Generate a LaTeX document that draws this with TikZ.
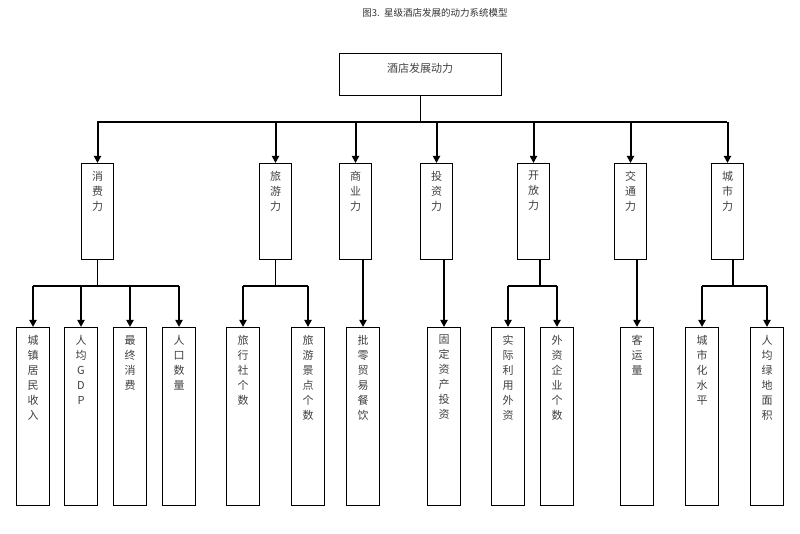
\documentclass[tikz,border=0pt]{standalone}
\usepackage{fontspec}
\newfontfamily\cjk{Noto Sans CJK SC}
\usetikzlibrary{arrows.meta}
\begin{document}
\begin{tikzpicture}[x=1pt,y=-1pt,
  box/.style={draw,line width=1pt,inner sep=0pt,anchor=north west},
  lab/.style={anchor=north,align=center,font=\cjk\fontsize{11}{15}\selectfont,text=black!75,inner sep=0pt},
  bus/.style={line width=1.3pt},
  arr/.style={line width=2pt,-{Triangle[length=7pt,width=7pt]}},
  stem/.style={line width=1.3pt}]
\useasboundingbox (0,0) rectangle (800,534);
\node[font=\cjk\fontsize{9.5}{11}\selectfont,text=black!80] (title) at (435,13) {图3.\ \ 星级酒店发展的动力系统模型};
% top
\node[box,minimum width=162pt,minimum height=42pt] (top) at (339,53) {};
\node[lab,font=\cjk\fontsize{11}{13}\selectfont] (toplab) at (420,63) {酒店发展动力};
\coordinate (b1) at (420,122);
\draw[stem] (top.south) -- (top.south |- b1);
\draw[bus] (97,122) -- (727,122);
% mid boxes
\foreach \n/\x/\t in {m1/81/消\\费\\力, m2/259/旅\\游\\力, m3/339/商\\业\\力, m4/420/投\\资\\力, m5/517/开\\放\\力, m6/614/交\\通\\力, m7/711/城\\市\\力}{
  \node[box,minimum width=32pt,minimum height=96pt] (\n) at (\x,163) {};
  \node[lab] (\n l) at ([yshift=-8pt]\n.north) {\t};
  \coordinate (\n t) at (\n.north |- 0,122);
  \draw[arr] (\n t) -- (\n.north);
}
% leaf boxes
\foreach \n/\x/\t in {l1/16/城\\镇\\居\\民\\收\\入, l2/64/人\\均\\G\\D\\P, l3/113/最\\终\\消\\费, l4/162/人\\口\\数\\量, l5/226/旅\\行\\社\\个\\数, l6/291/旅\\游\\景\\点\\个\\数, l7/346/批\\零\\贸\\易\\餐\\饮, l8/427/固\\定\\资\\产\\投\\资, l9/491/实\\际\\利\\用\\外\\资, l10/540/外\\资\\企\\业\\个\\数, l11/620/客\\运\\量, l12/685/城\\市\\化\\水\\平, l13/750/人\\均\\绿\\地\\面\\积}{
  \node[box,minimum width=33pt,minimum height=178pt] (\n) at (\x,327) {};
  \node[lab] (\n l) at ([yshift=-8pt]\n.north) {\t};
}
% second level
\coordinate (s1) at (97,286); \draw[stem] (m1.south) -- (m1.south |- s1); \draw[bus] (l1.north |- s1) -- (l4.north |- s1);
\foreach \l in {l1,l2,l3,l4}{\draw[arr] (\l.north |- s1) -- (\l.north);}
\coordinate (s2) at (275,286); \draw[stem] (m2.south) -- (m2.south |- s2); \draw[bus] (l5.north |- s2) -- (l6.north |- s2);
\foreach \l in {l5,l6}{\draw[arr] (\l.north |- s2) -- (\l.north);}
\draw[arr] (l7.north |- m3.south) -- (l7.north);
\draw[arr] (l8.north |- m4.south) -- (l8.north);
\coordinate (s5) at (540,286); \draw[stem] (s5 |- m5.south) -- (s5); \draw[bus] (l9.north |- s5) -- (l10.north |- s5);
\foreach \l in {l9,l10}{\draw[arr] (\l.north |- s5) -- (\l.north);}
\draw[arr] (l11.north |- m6.south) -- (l11.north);
\coordinate (s7) at (733,286); \draw[stem] (s7 |- m7.south) -- (s7); \draw[bus] (l12.north |- s7) -- (l13.north |- s7);
\foreach \l in {l12,l13}{\draw[arr] (\l.north |- s7) -- (\l.north);}
\end{tikzpicture}
\end{document}
